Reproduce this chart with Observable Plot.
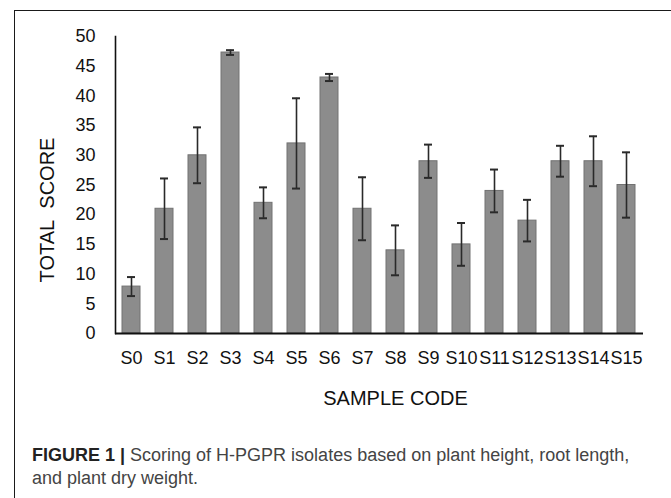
<!DOCTYPE html>
<html>
<head>
<meta charset="utf-8">
<script src="https://cdn.jsdelivr.net/npm/d3@7"></script>
<script src="https://cdn.jsdelivr.net/npm/@observablehq/plot@0.6"></script>
<style>
  html, body { margin: 0; padding: 0; background: #fff; overflow: hidden; }
  body { width: 671px; height: 498px; position: relative; }
  #frame { position: absolute; left: 14px; top: 10px; width: 720px; height: 540px; border: 1.5px solid #1a1a1a; box-sizing: border-box; }
  #chart { position: absolute; left: 0; top: 0; }
  #caption { position: absolute; left: 32px; top: 444px; font-family: "Liberation Sans", Arial, sans-serif; font-size: 18px; line-height: 23px; color: #444; white-space: nowrap; }
  #caption b { color: #222; }
</style>
</head>
<body>
<div id="frame"></div>
<div id="chart"></div>
<div id="caption"><b>FIGURE 1 |</b> Scoring of H-PGPR isolates based on plant height, root length,<br>and plant dry weight.</div>
<script>
const samples = ["S0","S1","S2","S3","S4","S5","S6","S7","S8","S9","S10","S11","S12","S13","S14","S15"];
const scores  = [7.9, 21, 30, 47.3, 22, 32, 43.1, 21, 14, 29, 15, 24, 19, 29, 29, 25];
const errors  = [1.6, 5.1, 4.7, 0.4, 2.6, 7.6, 0.6, 5.3, 4.2, 2.8, 3.6, 3.6, 3.5, 2.6, 4.2, 5.5];
const yTicks  = [0,5,10,15,20,25,30,35,40,45,50];
const xTitle = "SAMPLE CODE";
const yTitle = "TOTAL\u00a0 SCORE";

const data = samples.map((s, i) => ({sample: s, score: scores[i], lo: scores[i] - errors[i], hi: scores[i] + errors[i]}));

const chart = Plot.plot({
  width: 671,
  height: 420,
  marginLeft: 115,
  marginRight: 28,
  marginTop: 36,
  marginBottom: 87,
  style: {fontFamily: "'Liberation Sans', Arial, sans-serif", fontSize: "18px", color: "#111", background: "transparent"},
  x: {domain: samples, paddingInner: 0.45, paddingOuter: 0.225},
  y: {domain: [0, 50]},
  marks: [
    Plot.barY(data, {x: "sample", y: "score", fill: "#8c8c8c", stroke: "#727272", strokeWidth: 1}),
    Plot.ruleX(data, {x: "sample", y1: "lo", y2: "hi", stroke: "#2a2a2a", strokeWidth: 1.6}),
    Plot.tickY(data, {x: "sample", y: "hi", stroke: "#2a2a2a", strokeWidth: 2, insetLeft: 5, insetRight: 5}),
    Plot.tickY(data, {x: "sample", y: "lo", stroke: "#2a2a2a", strokeWidth: 2, insetLeft: 5, insetRight: 5}),
    Plot.axisY({ticks: yTicks, tickSize: 0, tickPadding: 20, label: null, fill: "#111"}),
    Plot.axisX({tickSize: 0, tickPadding: 18, label: null, fill: "#111"}),
    Plot.frame({anchor: "left", stroke: "#111", strokeWidth: 1.6}),
    Plot.ruleY([0], {stroke: "#111", strokeWidth: 2}),
    Plot.text([yTitle], {text: d => d, frameAnchor: "left", rotate: -90, dx: -68, dy: 25, fontSize: 20, fill: "#111", textAnchor: "middle", lineAnchor: "middle"}),
    Plot.text([xTitle], {text: d => d, frameAnchor: "bottom", dx: 16, dy: 65, fontSize: 20, fill: "#111", textAnchor: "middle", lineAnchor: "middle"})
  ]
});
document.getElementById("chart").appendChild(chart);
</script>
</body>
</html>
